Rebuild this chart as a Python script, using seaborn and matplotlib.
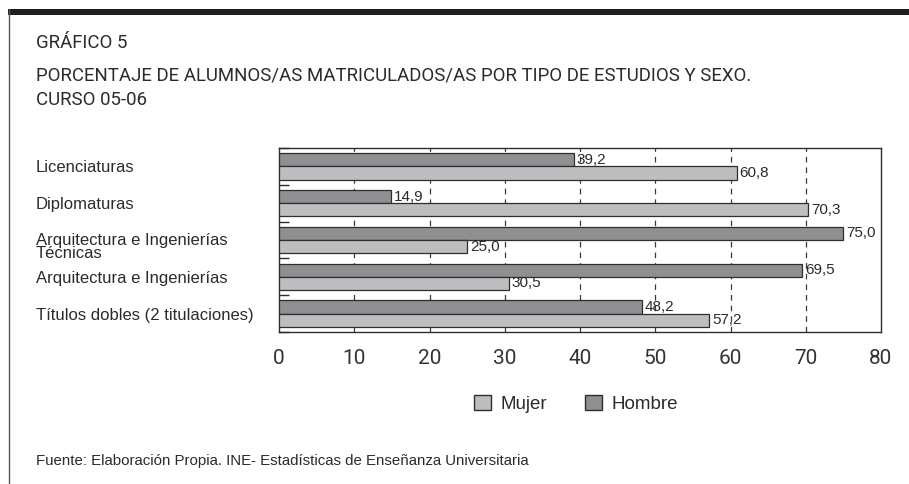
import matplotlib
matplotlib.use("Agg")
import matplotlib.pyplot as plt
import matplotlib.transforms as mtransforms
from matplotlib.patches import Rectangle, Patch
from matplotlib.lines import Line2D
from matplotlib.ticker import FixedLocator
import seaborn as sns
import pandas as pd

categories = ["Licenciaturas", "Diplomaturas", "Arquitectura e Ingenierías\nTécnicas",
              "Arquitectura e Ingenierías", "Títulos dobles (2 titulaciones)"]
hombre = [39.2, 14.9, 75.0, 69.5, 48.2]
mujer = [60.8, 70.3, 25.0, 30.5, 57.2]
x_ticks = [0, 10, 20, 30, 40, 50, 60, 70, 80]

title_lines = ["GRÁFICO 5",
               "PORCENTAJE DE ALUMNOS/AS MATRICULADOS/AS POR TIPO DE ESTUDIOS Y SEXO.",
               "CURSO 05-06"]
source = "Fuente: Elaboración Propia. INE- Estadísticas de Enseñanza Universitaria"

df = pd.DataFrame({
    "cat": categories * 2,
    "valor": hombre + mujer,
    "sexo": ["Hombre"] * len(categories) + ["Mujer"] * len(categories),
})

C_H = "#8e8f92"
C_M = "#bdbec0"
EDGE = "#2e2e2e"
TXT = "#2b2b2b"
NARROW = ["Roboto", "Liberation Sans", "DejaVu Sans"]

sns.set_theme(style="white")
plt.rcParams["font.family"] = ["Liberation Sans", "DejaVu Sans"]
plt.rcParams["text.color"] = TXT

W, H = 909, 484
fig = plt.figure(figsize=(W / 100, H / 100), dpi=100)
fig.patch.set_facecolor("white")

ax = fig.add_axes([279 / W, 1 - 332 / H, (881 - 279) / W, (332 - 148) / H])
sns.barplot(data=df, x="valor", y="cat", hue="sexo", hue_order=["Hombre", "Mujer"],
            palette={"Hombre": C_H, "Mujer": C_M}, orient="h", width=0.72,
            edgecolor=EDGE, linewidth=0.9, legend=False, ax=ax, zorder=3)

ax.set_xlim(0, 80)
ax.set_ylim(len(categories) - 0.5, -0.5)
ax.set_xticks(x_ticks)
ax.set_xticklabels([str(t) for t in x_ticks], fontsize=15, color="#333333",
                   family=NARROW)
ax.tick_params(axis="x", length=0, pad=12)
ax.set_xlabel("")
ax.set_ylabel("")

for t in x_ticks[1:-1]:
    ax.axvline(t, color="#3a3a3a", lw=0.9, ls=(0, (4.5, 4)), zorder=1)

ax.set_yticks(range(len(categories)))
ax.set_yticklabels(categories, fontsize=12, color=TXT, linespacing=0.85)
ax.tick_params(axis="y", which="major", length=0, pad=(279 - 36) * 0.72)
for lab in ax.get_yticklabels():
    lab.set_horizontalalignment("left")
    if "\n" in lab.get_text():
        lab.set_transform(lab.get_transform() +
                          mtransforms.ScaledTranslation(0, -0.06, fig.dpi_scale_trans))
ax.yaxis.set_minor_locator(FixedLocator([i - 0.5 for i in range(len(categories) + 1)]))
ax.tick_params(axis="y", which="minor", direction="in", length=7, width=1.0,
               color=EDGE, left=True)

for s in ax.spines.values():
    s.set_visible(True)
    s.set_color(EDGE)
    s.set_linewidth(1.0)

for cont, vals in zip(ax.containers, [hombre, mujer]):
    ax.bar_label(cont, labels=[f"{v:.1f}".replace(".", ",") for v in vals],
                 padding=2, fontsize=11, color=TXT)

handles = [Patch(facecolor=C_M, edgecolor=EDGE, lw=1.0, label="Mujer"),
           Patch(facecolor=C_H, edgecolor=EDGE, lw=1.0, label="Hombre")]
fig.legend(handles=handles, loc="center", bbox_to_anchor=(576 / W, 1 - 404 / H),
           ncol=2, frameon=False, fontsize=13.5, handlelength=0.9, handleheight=0.9,
           handletextpad=0.5, columnspacing=2.0, borderaxespad=0)

# frame decorations
fig.add_artist(Rectangle((8 / W, 1 - 15 / H), 1 - 8 / W, 6 / H, transform=fig.transFigure,
                         facecolor="#1e1e1e", edgecolor="none"))
fig.add_artist(Line2D([8.5 / W, 8.5 / W], [0, 1 - 9 / H], transform=fig.transFigure,
                      color="#555555", lw=1.0))

ys = [43, 75, 100]
for line, y in zip(title_lines, ys):
    fig.text(36 / W, 1 - y / H, line, fontsize=13.4, va="center", ha="left", color=TXT,
             family=NARROW)
fig.text(36 / W, 1 - 461 / H, source, fontsize=10.8, va="center", ha="left", color=TXT)

fig.savefig("out.png", dpi=100, facecolor="white")
